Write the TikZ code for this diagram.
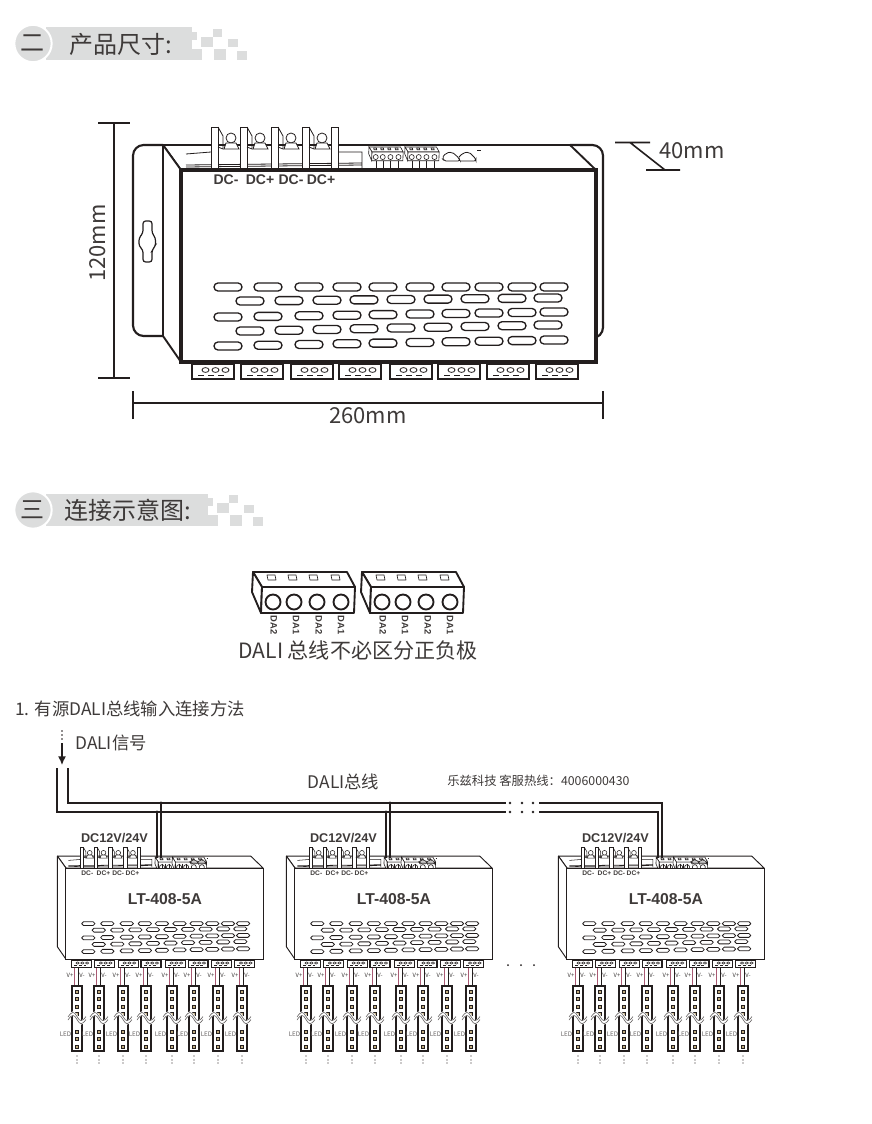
\documentclass[tikz,border=0pt]{standalone}
\usepackage{fontspec}
\setmainfont{Noto Sans CJK SC}
\newfontfamily\arialfont{Liberation Sans}
\usepackage{tikz}
\usetikzlibrary{arrows.meta, positioning, calc}
\definecolor{inkdark}{RGB}{35, 30, 30}
\definecolor{textgrey}{RGB}{62, 58, 57}
\definecolor{headgrey}{RGB}{220, 221, 221}
\definecolor{wirepink}{RGB}{170, 90, 115}
\definecolor{ledtan}{RGB}{190, 170, 125}
\newcommand{\ventodd}{228,268,309,347,383,420,456,489,522,554}
\newcommand{\venteven}{250,289,327,364,401,438,475,512,548}
\newcommand{\headsquares}{
  \foreach \sqa/\sqb/\sqc/\sqd in {192/32/197/40,201/37/213/47,213/29/222/37,228/39/238/47,192/49/202/60,214/49/226/60,237/51/247/60}
    \fill[headgrey] (\sqa,\sqb) rectangle (\sqc,\sqd);
}
\tikzset{
  headtext/.style={font=\fontsize{18}{20}\selectfont, text=textgrey, inner sep=0pt},
  plaintext/.style={font=\fontsize{13}{15}\selectfont, text=textgrey, inner sep=0pt},
  dimtext/.style={font=\fontsize{16.5}{18}\selectfont, text=textgrey, inner sep=0pt},
  boldtext/.style={font=\arialfont\bfseries\fontsize{9.5}{11}\selectfont, text=textgrey, inner sep=0pt},
  headdisc/.style={circle, fill=headgrey, draw=white, line width=1.5pt, minimum size=28pt, inner sep=0pt, font=\fontsize{18}{20}\selectfont, text=textgrey},
  dimline/.style={draw=inkdark, line width=1.2pt},
  busline/.style={draw=inkdark, line width=1.15pt},
  plateline/.style={draw=inkdark, line width=1.6pt, rounded corners=8pt},
  bodyline/.style={draw=inkdark, line width=1.4pt, line join=round},
  frontline/.style={draw=inkdark, line width=2.4pt},
  thinline/.style={draw=inkdark, line width=0.6pt},
  blockline/.style={draw=inkdark, line width=1.2pt},
  ventline/.style={draw=inkdark, line width=1pt, rounded corners=3pt},
  daliline/.style={draw=inkdark, line width=1.4pt, line join=round},
  dalimini/.style={draw=inkdark, line width=0.45pt},
  dcmark/.style={font=\arialfont\bfseries\fontsize{10.5}{12}\selectfont, text=textgrey, inner sep=0pt},
  smallunit/.style={
    bodyline/.style={draw=inkdark, line width=0.7pt, line join=round},
    frontline/.style={draw=inkdark, line width=0.75pt},
    thinline/.style={draw=inkdark, line width=0.4pt},
    blockline/.style={draw=inkdark, line width=0.8pt},
    ventline/.style={draw=inkdark, line width=0.6pt, rounded corners=1.4pt},
    dalimini/.style={draw=inkdark, line width=0.45pt},
    dcmark/.style={font=\arialfont\bfseries\fontsize{5}{6}\selectfont, text=textgrey, inner sep=0pt}},
  dalihead/.pic={
    \draw[daliline, fill=white] (0,0) -- (94,0) -- (102,15) -- (9,15) -- cycle;
    \draw[daliline, fill=white] (0,0) -- (-1,20) -- (8,41) -- (9,15) -- cycle;
    \draw[daliline, fill=white] (9,15) -- (102,15) -- (101,41) -- (8,41) -- cycle;
    \foreach \holex/\winx in {20/18,41/39,64/60,88/82} {
      \draw[daliline] (\holex,30) circle (7.5);
      \draw[daliline, line width=0.5pt] (\winx-4,3) -- (\winx+4,3) -- (\winx+5,8) -- (\winx-3,8) -- cycle;
    }
  },
  driver/.pic={
    \draw[bodyline, fill=white] (163,145) -- (570,145) -- (596,170) -- (181,170) -- cycle;
    \draw[bodyline, fill=white] (163,145) -- (163,336) -- (181,362) -- (181,170) -- cycle;
    % base under the terminals
    \draw[thinline] (186,154) -- (211,152) (186,165) -- (362,163) (186,167) -- (362,165) (337,152) -- (362,152) -- (362,168);
    \foreach \tabx in {211,240,271,302,331} {
      \draw[thinline, fill=white] (\tabx,170) -- (\tabx,127) -- (\tabx+7,127) -- (\tabx+7,170);
    }
    \foreach \tabx in {211,240,271,302} {
      \draw[thinline] (\tabx+7,127) -- (\tabx+12,136) -- (\tabx+12,149) -- (\tabx+7,147);
      \draw[thinline, fill=white] (\tabx+20,138) circle (5);
      \draw[thinline, fill=white] (\tabx+15,143) -- (\tabx+25,143) -- (\tabx+28,149) -- (\tabx+13,149) -- cycle;
    }
    % two bus connectors
    \foreach \headx in {369,405} {
      \begin{scope}[daliline/.style={dalimini}]
        \pic at (\headx,147) [scale=0.335] {dalihead};
      \end{scope}
      \foreach \pinx in {7,14,21,29}
        \draw[thinline] (\headx+\pinx,161) -- (\headx+\pinx,169);
    }
    \draw[thinline, rounded corners=1.5pt] (442,158) -- (446,153) -- (452,152) -- (459,158) -- (460,161) -- (444,161) -- cycle;
    \draw[thinline, rounded corners=1.5pt] (459,157) -- (463,153) -- (469,152) -- (476,159) -- (476,161) -- (460,161);
    \draw[thinline, line width=0.3pt] (477,150) -- (481,150);
    \draw[frontline, fill=white] (181,170) rectangle (596,362);
    \foreach \venty/\ventt in {287/0,317/-5,346/-6}
      \foreach \ventx in \ventodd
        \draw[ventline] (\ventx-14,{\venty+\ventt*(\ventx-228)/326-4}) rectangle (\ventx+14,{\venty+\ventt*(\ventx-228)/326+4});
    \foreach \venty/\ventt in {301/-3,331/-6}
      \foreach \ventx in \venteven
        \draw[ventline] (\ventx-14,{\venty+\ventt*(\ventx-250)/298-4}) rectangle (\ventx+14,{\venty+\ventt*(\ventx-250)/298+4});
    % output blocks
    \foreach \blockx in {192,241,291,339,390,438,487,536} {
      \draw[blockline, fill=white] (\blockx,364) rectangle (\blockx+42,379);
      \foreach \holex in {16,26,36} {
        \draw[thinline] (\blockx+\holex-6,370) ++(3.5,0) ellipse (3.5 and 2.4);
        \draw[thinline] (\blockx+\holex-10,375.5) -- (\blockx+\holex-4,375.5);
      }
    }
    \node[dcmark] (-dca) at (226,180) {DC-};
    \node[dcmark] (-dcb) at (260,180) {DC+};
    \node[dcmark] (-dcc) at (291,180) {DC-};
    \node[dcmark] (-dcd) at (321,180) {DC+};
    \coordinate (-tapa) at (372.6,149);
    \coordinate (-tapb) at (381,149);
  },
  ledstrip/.pic={
    \coordinate (-pinktop) at (-3,-18);
    \coordinate (-pinkend) at (-3,0);
    \coordinate (-blacktop) at (1,-18);
    \coordinate (-blackend) at (1,0);
    \draw[wirepink, line width=0.75pt] (-pinktop) -- (-pinkend);
    \draw[inkdark, line width=0.75pt] (-blacktop) -- (-blackend);
    \node[font=\fontsize{4.4}{5}\selectfont, text=textgrey, inner sep=0pt] (-vplus) at (-7,-11) {V+};
    \node[font=\fontsize{4.4}{5}\selectfont, text=textgrey, inner sep=0pt] (-vminus) at (5,-11) {V-};
    \node[font=\fontsize{4.7}{5}\selectfont, text=textgrey!80, inner sep=0pt] (-led) at (-11.5,48) {LED};
    \draw[inkdark, line width=0.9pt, fill=white] (-5,0) rectangle (5,65);
    \foreach \chipy in {6,13,21,28,46,53,61}
      \draw[inkdark, line width=0.45pt, fill=ledtan] (-1.6,\chipy-1.6) rectangle (1.6,\chipy+1.6);
    \draw[white, line width=2.8pt] (-9,32) .. controls (-5,26) and (-3,26) .. (0,32) .. controls (3,38) and (5,38) .. (9,32);
    \draw[inkdark!70, line width=0.45pt] (-9,31) .. controls (-5,25) and (-3,25) .. (0,30.5) .. controls (3,36) and (5,36) .. (9,30.5);
    \draw[inkdark!70, line width=0.45pt] (-9,34) .. controls (-5,28) and (-3,28) .. (0,33.5) .. controls (3,39) and (5,39) .. (9,33.5);
    \foreach \doty in {70,74,77}
      \fill[inkdark] (0,\doty) circle (0.7);
  }
}
\begin{document}
\begin{tikzpicture}[x=0.75pt, y=-0.75pt]
  \useasboundingbox (0,0) rectangle (871,1124);
  \fill[white] (0,0) rectangle (871,1124);

  % first heading
  \fill[headgrey] (46,27) rectangle (192,60);
  \headsquares
  \node[headdisc] (numtwo) at (33,43.5) {二};
  \node[headtext, anchor=west] (sizehead) at (69,44) {产品尺寸:};

  % second heading
  \fill[headgrey] (46,494) rectangle (208,526);
  \begin{scope}[shift={(16,466)}]
    \headsquares
  \end{scope}
  \node[headdisc] (numthree) at (33,510) {三};
  \node[headtext, anchor=west] (wirehead) at (64,510) {连接示意图:};

  % large unit with its mounting plate
  \draw[plateline, fill=white] (163,145) -- (133,145) -- (133,336) -- (163,336);
  \draw[plateline, fill=white] (570,145) -- (603,145) -- (603,338) -- (596,338);
  \draw[inkdark, line width=0.9pt, fill=white, rounded corners=2pt] (143,221) -- (152,221) -- (152,233) -- (155.5,238) -- (155.5,246) -- (152,250) -- (152,262) -- (143,262) -- (143,250) -- (139,246) -- (139,238) -- (143,233) -- cycle;
  \pic (bigunit) at (0,0) {driver};

  % dimensions
  \coordinate (hightop) at (114,123);
  \coordinate (highend) at (114,378);
  \draw[dimline] (hightop) -- (highend);
  \draw[dimline] ([xshift=-12pt]hightop) -- ([xshift=12pt]hightop);
  \draw[dimline] ([xshift=-12pt]highend) -- ([xshift=12pt]highend);
  \node[dimtext, rotate=90] (highlabel) at (98,243) {120mm};
  \coordinate (wideleft) at (133,403);
  \coordinate (wideright) at (603,403);
  \draw[dimline] (wideleft) -- (wideright);
  \draw[dimline] ([yshift=-12pt]wideleft) -- ([yshift=9pt]wideleft);
  \draw[dimline] ([yshift=-12pt]wideright) -- ([yshift=9pt]wideright);
  \node[dimtext] (widelabel) at (368,416) {260mm};
  \coordinate (deepa) at (615,142.5);
  \coordinate (deepb) at (650,142.5);
  \coordinate (deepc) at (630,142.5);
  \coordinate (deepd) at (665,170);
  \coordinate (deepe) at (646,170);
  \coordinate (deepf) at (680,170);
  \draw[dimline] (deepa) -- (deepb) (deepc) -- (deepd) (deepe) -- (deepf);
  \node[dimtext, anchor=west] (deeplabel) at (659,151) {40mm};

  % bus connector close-up
  \foreach \daliname/\dalix in {daleft/253,daright/362} {
    \pic (\daliname) at (\dalix,572) {dalihead};
    \node[font=\arialfont\bfseries\fontsize{7}{8}\selectfont, text=textgrey, rotate=-90, inner sep=0pt] (\daliname-a) at (\dalix+21,625) {DA2};
    \node[font=\arialfont\bfseries\fontsize{7}{8}\selectfont, text=textgrey, rotate=-90, inner sep=0pt] (\daliname-b) at (\dalix+43,625) {DA1};
    \node[font=\arialfont\bfseries\fontsize{7}{8}\selectfont, text=textgrey, rotate=-90, inner sep=0pt] (\daliname-c) at (\dalix+66,625) {DA2};
    \node[font=\arialfont\bfseries\fontsize{7}{8}\selectfont, text=textgrey, rotate=-90, inner sep=0pt] (\daliname-d) at (\dalix+88,625) {DA1};
  }
  \node[font=\fontsize{15.8}{18}\selectfont, text=textgrey, inner sep=0pt] (dalinote) at (358,650) {DALI 总线不必区分正负极};

  \node[plaintext, anchor=west] (methodhead) at (15,709) {1. 有源DALI总线输入连接方法};
  \node[plaintext, anchor=west] (signallabel) at (75,743) {DALI信号};
  \node[plaintext] (buslabel) at (343.5,782) {DALI总线};
  \node[font=\fontsize{9.25}{11}\selectfont, text=textgrey, inner sep=0pt, anchor=west] (hotline) at (447,781) {乐兹科技 客服热线：4006000430};

  % signal arrow
  \coordinate (signaltop) at (62,731);
  \coordinate (signalmid) at (62,743);
  \coordinate (signalend) at (62,765);
  \draw[inkdark, line width=1.4pt, line cap=round, dash pattern=on 0pt off 3pt] (signaltop) -- (signalmid);
  \draw[-{Latex[length=6.5pt, width=6pt]}, inkdark, line width=1pt] (signalmid) -- (signalend);

  % small units
  \foreach \devx/\devn in {0/a,229/b,501/c} {
    \begin{scope}[smallunit]
      \pic (dev\devn) at ({\devx-20},787.25) [scale=0.475] {driver};
    \end{scope}
    \node[boldtext] (power\devn) at (\devx+114.5,838) {DC12V/24V};
    \node[boldtext, font=\arialfont\bfseries\fontsize{11.8}{14}\selectfont] (model\devn) at (\devx+165,899) {LT-408-5A};
    \foreach \stripx in {77,99,123,146,172,194,218,242}
      \pic (strip\devn\stripx) at (\devx+\stripx,986) {ledstrip};
  }
  \foreach \dotx in {508,521,534}
    \fill[inkdark] (\dotx,965) circle (1);

  % bus
  \coordinate (outtop) at (57,768);
  \coordinate (intop) at (68,768);
  \coordinate (outgapl) at (506,812);
  \coordinate (outgapr) at (539,812);
  \coordinate (ingapl) at (506,803);
  \coordinate (ingapr) at (539,803);
  \draw[busline] (outtop) |- (outgapl);
  \draw[busline] (intop) |- (ingapl);
  \draw[busline] (outgapr) -| (devc-tapa);
  \draw[busline] (ingapr) -| (devc-tapb);
  \foreach \tapn in {a,b} {
    \draw[busline] (dev\tapn-tapa |- outgapl) -- (dev\tapn-tapa);
    \draw[busline] (dev\tapn-tapb |- ingapl) -- (dev\tapn-tapb);
    \fill[inkdark] (dev\tapn-tapa |- outgapl) circle (1.6);
    \fill[inkdark] (dev\tapn-tapb |- ingapl) circle (1.6);
  }
  \foreach \dotx in {510,522,533} {
    \fill[inkdark] (\dotx,803) circle (1.3);
    \fill[inkdark] (\dotx,812) circle (1.3);
  }
\end{tikzpicture}
\end{document}
